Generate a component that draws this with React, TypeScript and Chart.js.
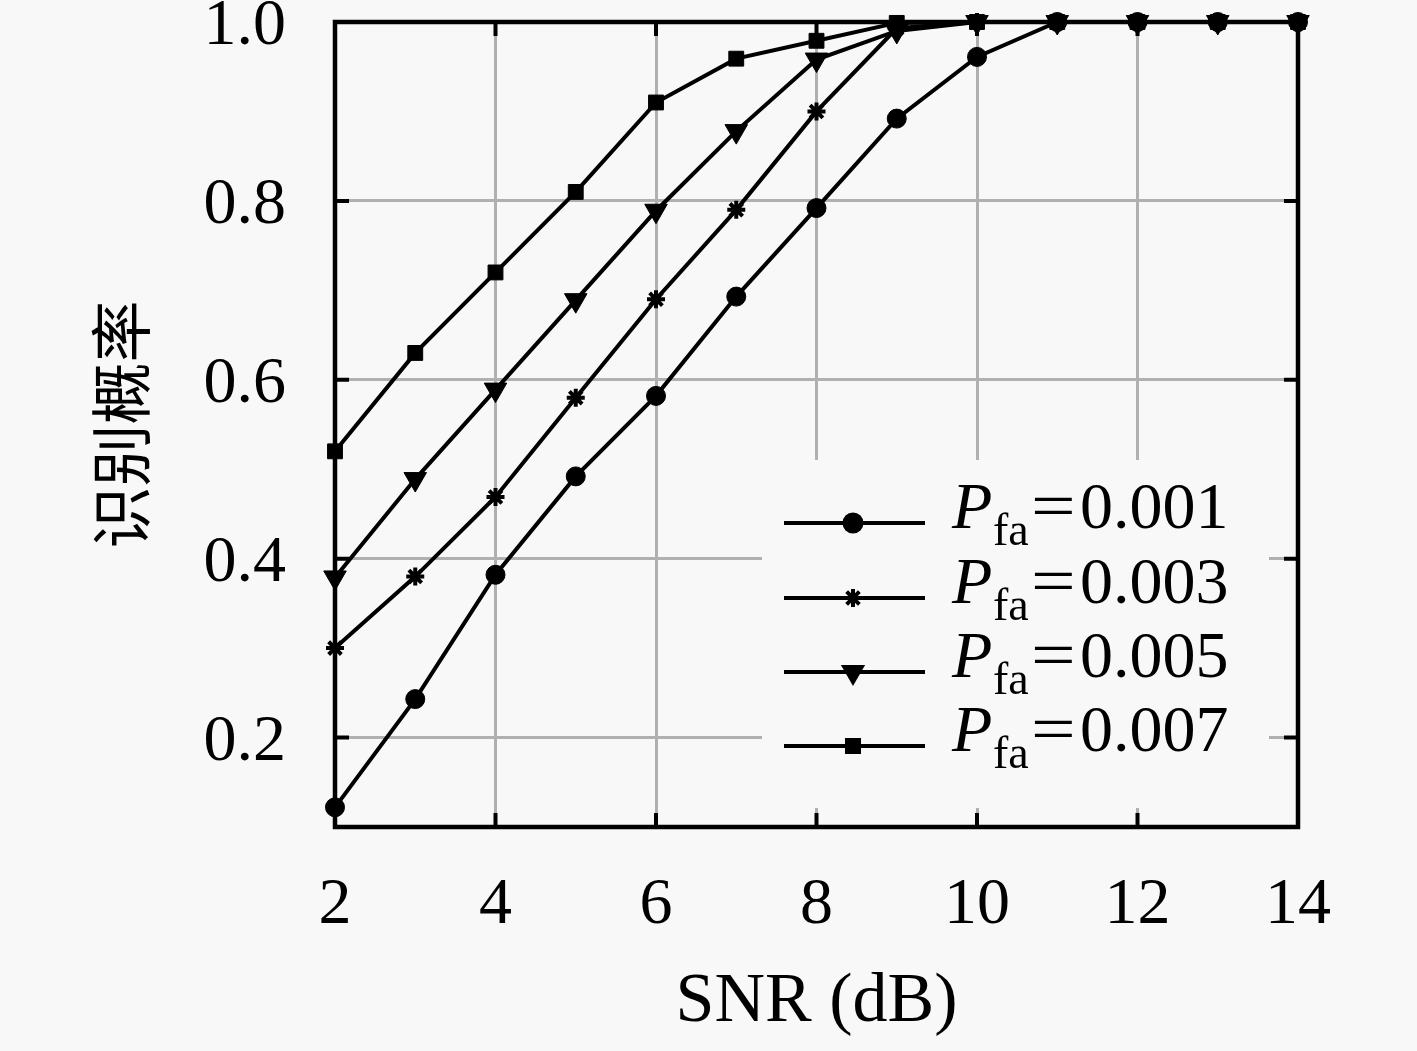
import React, { useEffect, useRef } from "react";
import { Chart, registerables } from "chart.js";

Chart.register(...registerables);

// ---- data ----
const snr = [2, 3, 4, 5, 6, 7, 8, 9, 10, 11, 12, 13, 14];
const pfa001 = [0.122, 0.243, 0.382, 0.492, 0.582, 0.693, 0.792, 0.892, 0.961, 1, 1, 1, 1];
const pfa003 = [0.3, 0.38, 0.469, 0.58, 0.69, 0.79, 0.9, 0.993, 1, 1, 1, 1, 1];
const pfa005 = [0.379, 0.489, 0.589, 0.689, 0.789, 0.878, 0.958, 0.99, 1, 1, 1, 1, 1];
const pfa007 = [0.52, 0.63, 0.72, 0.81, 0.91, 0.959, 0.979, 0.999, 1, 1, 1, 1, 1];
const seriesValues = ["0.001", "0.003", "0.005", "0.007"];
const xTicks = [2, 4, 6, 8, 10, 12, 14];
const yTicks = [0.2, 0.4, 0.6, 0.8, 1.0];
const xTitle = "SNR (dB)";
const yTitle = "识别概率";

// ---- style ----
const W = 1417;
const H = 1051;
const BG = "#f8f8f8";
const GRID = "#b0b0b0";
const SERIF = "'Liberation Serif', 'Times New Roman', serif";
const CJK = "'Noto Sans CJK SC', sans-serif";

type Marker = "circle" | "star" | "triangleDown" | "rect";
const markers: Marker[] = ["circle", "star", "triangleDown", "rect"];

function drawMarker(ctx: CanvasRenderingContext2D, kind: Marker, x: number, y: number) {
  ctx.save();
  ctx.fillStyle = "#000";
  ctx.strokeStyle = "#000";
  ctx.lineWidth = 4;
  ctx.beginPath();
  if (kind === "circle") {
    ctx.arc(x, y, 10.5, 0, Math.PI * 2);
    ctx.fill();
  } else if (kind === "rect") {
    ctx.rect(x - 8, y - 8, 16, 16);
    ctx.fill();
  } else if (kind === "triangleDown") {
    const r = 14;
    ctx.moveTo(x, y + r);
    ctx.lineTo(x - r * Math.sin(Math.PI / 3), y - r / 2);
    ctx.lineTo(x + r * Math.sin(Math.PI / 3), y - r / 2);
    ctx.closePath();
    ctx.fill();
  } else {
    const r = 9;
    for (let i = 0; i < 4; i++) {
      const a = (i * Math.PI) / 4;
      ctx.moveTo(x - r * Math.cos(a), y - r * Math.sin(a));
      ctx.lineTo(x + r * Math.cos(a), y + r * Math.sin(a));
    }
    ctx.stroke();
  }
  ctx.restore();
}

const framePlugin = {
  id: "frameAndLegend",
  beforeDraw(chart: any) {
    const ctx = chart.ctx;
    ctx.save();
    ctx.fillStyle = BG;
    ctx.fillRect(0, 0, chart.width, chart.height);
    ctx.restore();
  },
  beforeDatasetsDraw(chart: any) {
    const { ctx, chartArea: a, scales } = chart;
    ctx.save();
    // legend box (hides grid)
    ctx.fillStyle = BG;
    ctx.fillRect(762, 460, 507, 348);
    // frame
    ctx.strokeStyle = "#000";
    ctx.lineWidth = 4.5;
    ctx.strokeRect(a.left, a.top, a.right - a.left, a.bottom - a.top);
    // inward ticks
    const tl = 14;
    ctx.lineWidth = 4;
    ctx.beginPath();
    xTicks.forEach((v) => {
      const px = scales.x.getPixelForValue(v);
      ctx.moveTo(px, a.top);
      ctx.lineTo(px, a.top + tl);
      ctx.moveTo(px, a.bottom);
      ctx.lineTo(px, a.bottom - tl);
    });
    yTicks.forEach((v) => {
      const py = scales.y.getPixelForValue(v);
      ctx.moveTo(a.left, py);
      ctx.lineTo(a.left + tl, py);
      ctx.moveTo(a.right, py);
      ctx.lineTo(a.right - tl, py);
    });
    ctx.stroke();
    ctx.restore();
  },
  afterDatasetsDraw(chart: any) {
    const ctx = chart.ctx;
    ctx.save();
    const rows = [523, 598, 672, 746];
    seriesValues.forEach((val, i) => {
      const y = rows[i];
      ctx.strokeStyle = "#000";
      ctx.lineWidth = 4;
      ctx.beginPath();
      ctx.moveTo(784, y);
      ctx.lineTo(925, y);
      ctx.stroke();
      drawMarker(ctx, markers[i], 853, y);
      const base = y + 5;
      ctx.fillStyle = "#000";
      ctx.textBaseline = "alphabetic";
      ctx.textAlign = "left";
      ctx.font = `italic 66px ${SERIF}`;
      ctx.fillText("P", 952, base);
      ctx.font = `46px ${SERIF}`;
      ctx.fillText("fa", 993, base + 17);
      ctx.font = `66px ${SERIF}`;
      ctx.save();
      ctx.translate(1031, base);
      ctx.scale(1.2, 1);
      ctx.fillText("=", 0, 0);
      ctx.restore();
      ctx.fillText(val, 1080, base);
    });
    ctx.restore();
  },
};

export default function App() {
  const ref = useRef<HTMLCanvasElement | null>(null);

  useEffect(() => {
    if (!ref.current) return;
    const series = [pfa001, pfa003, pfa005, pfa007];
    const styles: any[] = [
      { pointStyle: "circle", pointRadius: 9.5, pointRotation: 0, pointBorderWidth: 1 },
      { pointStyle: "star", pointRadius: 9, pointRotation: 0, pointBorderWidth: 4 },
      { pointStyle: "triangle", pointRadius: 13, pointRotation: 180, pointBorderWidth: 1 },
      { pointStyle: "rect", pointRadius: 10.5, pointRotation: 0, pointBorderWidth: 1 },
    ];
    const datasets = series.map((arr, i) => ({
      label: "Pfa=" + seriesValues[i],
      data: snr.map((x, j) => ({ x, y: arr[j] })),
      borderColor: "#000",
      backgroundColor: "#000",
      borderWidth: 4,
      pointBorderColor: "#000",
      pointBackgroundColor: "#000",
      tension: 0,
      fill: false,
      clip: false as any,
      ...styles[i],
    }));

    const chart = new Chart(ref.current, {
      type: "line",
      data: { datasets },
      plugins: [framePlugin as any],
      options: {
        animation: false,
        responsive: false,
        devicePixelRatio: 1,
        layout: { padding: { top: 22, right: 119, left: 0, bottom: 0 } },
        plugins: { legend: { display: false }, tooltip: { enabled: false } },
        scales: {
          x: {
            type: "linear",
            min: 2,
            max: 14,
            afterBuildTicks: (s: any) => {
              s.ticks = xTicks.map((v) => ({ value: v }));
            },
            afterFit: (s: any) => {
              s.height = 224;
              s.paddingLeft = 0;
              s.paddingRight = 0;
            },
            ticks: {
              autoSkip: false,
              maxRotation: 0,
              padding: 39,
              color: "#000",
              font: { family: SERIF, size: 66 },
              callback: (v: any) => String(v),
            },
            grid: { color: GRID, lineWidth: 3, drawTicks: false },
            border: { display: false },
            title: {
              display: true,
              text: xTitle,
              color: "#000",
              font: { family: SERIF, size: 70 },
              padding: { top: 0, bottom: 6 },
            },
          },
          y: {
            type: "linear",
            min: 0.1,
            max: 1.0,
            afterBuildTicks: (s: any) => {
              s.ticks = yTicks.map((v) => ({ value: v }));
            },
            afterFit: (s: any) => {
              s.width = 335;
              s.paddingTop = 0;
              s.paddingBottom = 0;
            },
            ticks: {
              padding: 49,
              labelOffset: 5,
              color: "#000",
              font: { family: SERIF, size: 66 },
              callback: (v: any) => Number(v).toFixed(1),
            },
            grid: { color: GRID, lineWidth: 3, drawTicks: false },
            border: { display: false },
            title: {
              display: true,
              text: yTitle,
              color: "#000",
              font: { family: CJK, size: 62 },
              padding: { top: 84, bottom: 0 },
            },
          },
        },
      },
    });
    return () => chart.destroy();
  }, []);

  return (
    <div style={{ position: "fixed", left: 0, top: 0, width: W, height: H, background: BG }}>
      <canvas ref={ref} width={W} height={H} style={{ width: W, height: H, display: "block" }} />
    </div>
  );
}
